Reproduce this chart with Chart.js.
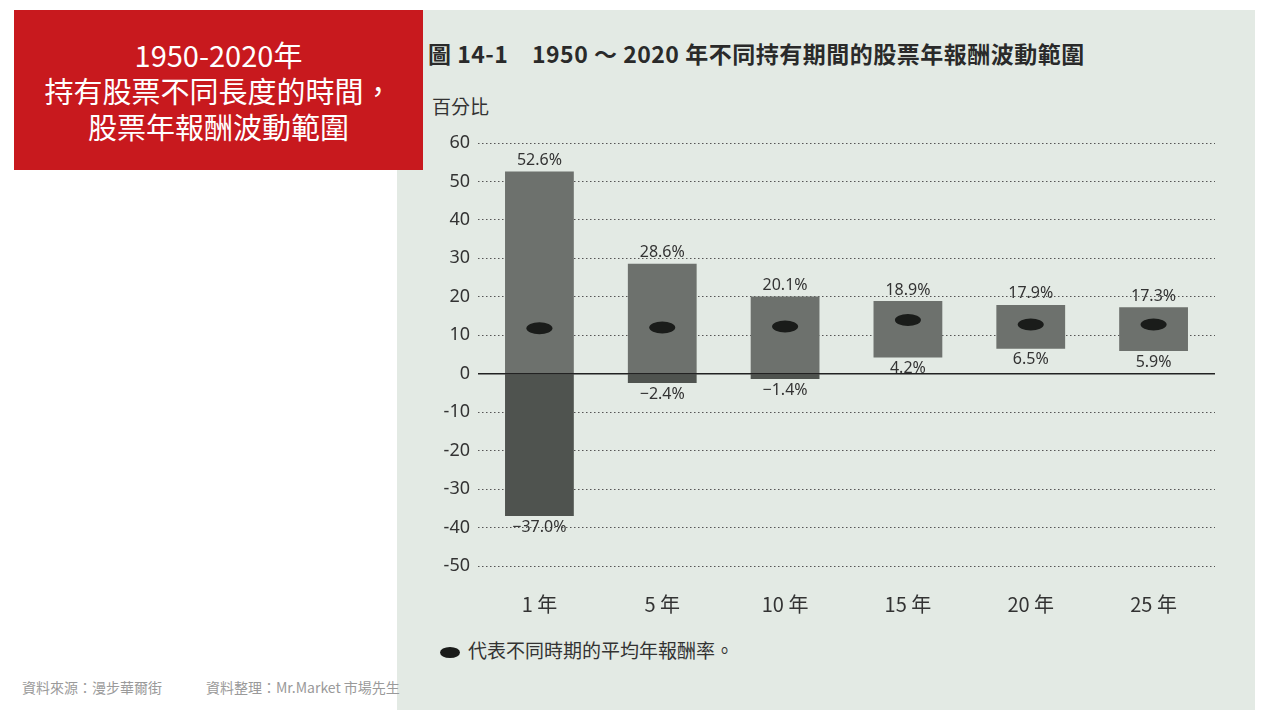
<!DOCTYPE html>
<html><head><meta charset="utf-8">
<script src="https://cdn.jsdelivr.net/npm/chart.js"></script>
<style>
body{margin:0;width:1280px;height:720px;background:#fff;position:relative;overflow:hidden;font-family:"Noto Sans CJK TC","Noto Sans",sans-serif}
#red{position:absolute;left:14px;top:10px;width:409px;height:160px;background:#c8191e;color:#fff;font-size:29px;line-height:36px;text-align:center;padding-top:26px;box-sizing:border-box;z-index:2}
#photo{position:absolute;left:397px;top:10px;width:858px;height:700px;background:#e3eae4}
#title{position:absolute;left:428px;top:36px;font-size:23px;font-weight:bold;color:#2a2a2a;white-space:nowrap;letter-spacing:0.5px}
#unit{position:absolute;left:432px;top:92px;font-size:19px;color:#333}
#legend{position:absolute;left:440px;top:636px;font-size:19px;color:#333}
#legend span{display:inline-block;width:20px;height:11px;border-radius:50%;background:#1a1c1a;margin-right:8px;vertical-align:middle}
#src{position:absolute;left:22px;top:677px;font-size:14px;color:#9a9a9a;white-space:pre;z-index:2}
#wrap{position:absolute;left:397px;top:120px;width:858px;height:510px}
</style></head><body>
<div id="photo"></div>
<div id="red">1950-2020年<br>持有股票不同長度的時間，<br>股票年報酬波動範圍</div>
<div id="title">圖 14-1　1950 ～ 2020 年不同持有期間的股票年報酬波動範圍</div>
<div id="unit">百分比</div>
<div id="legend"><span></span>代表不同時期的平均年報酬率。</div>
<div id="src">資料來源：漫步華爾街              資料整理：Mr.Market 市場先生</div>
<div id="wrap"><canvas id="c"></canvas></div>
<script>
const categories=["1 年","5 年","10 年","15 年","20 年","25 年"];
const maxVals=[52.6,28.6,20.1,18.9,17.9,17.3];
const minVals=[-37.0,-2.4,-1.4,4.2,6.5,5.9];
const avgVals=[11.8,12.0,12.3,14.0,12.8,12.8];
const yTicks=[60,50,40,30,20,10,0,-10,-20,-30,-40,-50];
const fmt=v=>(v<0?"−"+(-v).toFixed(1):v.toFixed(1))+"%";
const labelPlugin={id:"lbl",afterDatasetsDraw(ch){
 const c=ch.ctx,x=ch.scales.x,y=ch.scales.y;
 c.save();c.fillStyle="#333";c.font="16px 'Noto Sans','DejaVu Sans',sans-serif";c.textAlign="center";
 categories.forEach((k,i)=>{const px=x.getPixelForValue(i);
  c.textBaseline="bottom";c.fillText(fmt(maxVals[i]),px,y.getPixelForValue(maxVals[i])-3);
  c.textBaseline="top";c.fillText(fmt(minVals[i]),px,y.getPixelForValue(minVals[i])+3);
  c.fillStyle="#1a1c1a";c.beginPath();c.ellipse(px,y.getPixelForValue(avgVals[i]),13,6,0,0,Math.PI*2);c.fill();c.fillStyle="#333";
 });
 c.strokeStyle="#222";c.lineWidth=1.5;c.beginPath();c.moveTo(x.left,y.getPixelForValue(0));c.lineTo(x.right,y.getPixelForValue(0));c.stroke();
 c.restore();}};
new Chart(document.getElementById("c"),{type:"bar",
 data:{labels:categories,datasets:[
  {data:categories.map((_,i)=>[Math.max(0,minVals[i]),maxVals[i]]),backgroundColor:"#6d716d",barPercentage:0.56,categoryPercentage:1},
  {data:categories.map((_,i)=>[Math.min(0,minVals[i]),0]),backgroundColor:"#4f534f",barPercentage:0.56,categoryPercentage:1}]},
 options:{responsive:true,maintainAspectRatio:false,animation:false,
  layout:{padding:{top:23,right:40}},
  plugins:{legend:{display:false},tooltip:{enabled:false}},
  scales:{
   x:{stacked:true,grid:{display:false},border:{display:false},afterFit(s){s.height=64},
      ticks:{color:"#333",font:{size:20,family:"'Noto Sans CJK TC'"},padding:18}},
   y:{min:-50,max:60,afterFit(s){s.width=81},afterBuildTicks(s){s.ticks=yTicks.map(v=>({value:v}))},
      border:{display:false,dash:[1.5,2.5]},grid:{color:"#555",drawTicks:false},
      ticks:{color:"#333",font:{size:18,family:"'Noto Sans'"},padding:8}}}},
 plugins:[labelPlugin]});
</script></body></html>
